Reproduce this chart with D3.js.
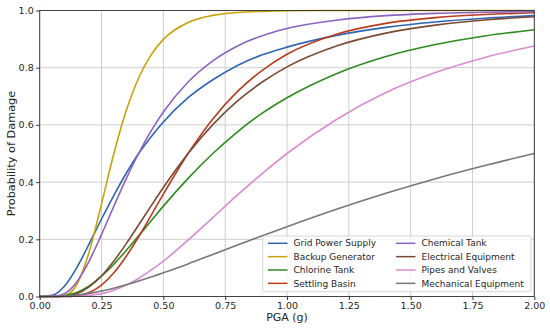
<!DOCTYPE html>
<html lang="en">
<head>
	<meta charset="UTF-8">
	<title>fragility curves</title>
	<script src="https://d3js.org/d3.v7.min.js"></script>
	<style>
		body { margin: 0; background: #fff; }
		text { font-family: "DejaVu Sans", sans-serif; fill: #262626; }
	</style>
</head>
<body>
	<script type="text/javascript">
		// PGA values (g) where the curves were read
		var pga = [0, 0.05, 0.1, 0.15, 0.2, 0.25, 0.3, 0.35, 0.4, 0.45, 0.5, 0.6, 0.7, 0.8, 0.9, 1.0, 1.2, 1.4, 1.6, 1.8, 2.0];

		var gridPower  = [0, 0.004, 0.036, 0.101, 0.184, 0.271, 0.354, 0.431, 0.5, 0.558, 0.61, 0.695, 0.758, 0.808, 0.845, 0.872, 0.913, 0.941, 0.96, 0.973, 0.982];
		var backupGen  = [0, 0, 0.003, 0.042, 0.156, 0.324, 0.5, 0.65, 0.764, 0.844, 0.899, 0.958, 0.983, 0.993, 0.997, 0.999, 1, 1, 1, 1, 1];
		var chlorine   = [0, 0, 0.003, 0.014, 0.037, 0.071, 0.113, 0.161, 0.212, 0.264, 0.316, 0.413, 0.5, 0.576, 0.641, 0.695, 0.779, 0.839, 0.881, 0.911, 0.933];
		var settling   = [0, 0, 0, 0.003, 0.014, 0.04, 0.083, 0.141, 0.209, 0.283, 0.358, 0.5, 0.621, 0.717, 0.791, 0.847, 0.917, 0.955, 0.975, 0.986, 0.992];
		var chemical   = [0, 0, 0.01, 0.051, 0.124, 0.217, 0.316, 0.412, 0.5, 0.578, 0.645, 0.75, 0.824, 0.876, 0.912, 0.937, 0.966, 0.982, 0.99, 0.994, 0.996];
		var electrical = [0, 0, 0.001, 0.01, 0.034, 0.072, 0.124, 0.185, 0.25, 0.316, 0.381, 0.5, 0.601, 0.684, 0.75, 0.803, 0.876, 0.921, 0.949, 0.967, 0.978];
		var pipes      = [0, 0, 0, 0.001, 0.004, 0.01, 0.022, 0.04, 0.063, 0.092, 0.124, 0.197, 0.276, 0.355, 0.43, 0.5, 0.619, 0.713, 0.783, 0.836, 0.876];
		var mechanical = [0, 0, 0.001, 0.005, 0.011, 0.019, 0.029, 0.041, 0.054, 0.068, 0.083, 0.114, 0.147, 0.18, 0.212, 0.244, 0.305, 0.361, 0.412, 0.458, 0.5];

		var names = ["Grid Power Supply", "Backup Generator", "Chlorine Tank", "Settling Basin",
			"Chemical Tank", "Electrical Equipment", "Pipes and Valves", "Mechanical Equipment"];
		var colors = ["#2f64b3", "#c9a20a", "#2e8b1e", "#b83c1e", "#8c62c0", "#7b4a33", "#d98cd2", "#777777"];
		var xTicks = [0, 0.25, 0.5, 0.75, 1.0, 1.25, 1.5, 1.75, 2.0];
		var yTicks = [0, 0.2, 0.4, 0.6, 0.8, 1.0];

		var series = [gridPower, backupGen, chlorine, settling, chemical, electrical, pipes, mechanical];

		var w = 550, h = 331;
		var pLeft = 39.7, pRight = 534.3, pTop = 10.5, pBottom = 296.5;

		var xScale = d3.scaleLinear().domain([0, 2]).range([pLeft, pRight]);
		var yScale = d3.scaleLinear().domain([0, 1]).range([pBottom, pTop]);

		var svg = d3.select("body").append("svg").attr("width", w).attr("height", h);

		// grid
		svg.append("g").selectAll("line").data(xTicks).enter().append("line")
			.attr("x1", function(d){ return xScale(d); }).attr("x2", function(d){ return xScale(d); })
			.attr("y1", pTop).attr("y2", pBottom)
			.attr("stroke", "#cfcfcf").attr("stroke-width", 1);
		svg.append("g").selectAll("line").data(yTicks).enter().append("line")
			.attr("x1", pLeft).attr("x2", pRight)
			.attr("y1", function(d){ return yScale(d); }).attr("y2", function(d){ return yScale(d); })
			.attr("stroke", "#cfcfcf").attr("stroke-width", 1);

		// curves
		var line = d3.line()
			.x(function(d, i){ return xScale(pga[i]); })
			.y(function(d){ return yScale(d); })
			.curve(d3.curveMonotoneX);

		svg.append("g").selectAll("path").data(series).enter().append("path")
			.attr("d", line)
			.attr("fill", "none")
			.attr("stroke", function(d, i){ return colors[i]; })
			.attr("stroke-width", 1.6);

		// axes
		var xAxis = svg.append("g").attr("transform", "translate(0," + pBottom + ")")
			.call(d3.axisBottom(xScale).tickValues(xTicks).tickFormat(d3.format(".2f")).tickSize(3.5).tickPadding(2.5));
		var yAxis = svg.append("g").attr("transform", "translate(" + pLeft + ",0)")
			.call(d3.axisLeft(yScale).tickValues(yTicks).tickFormat(d3.format(".1f")).tickSize(3.5).tickPadding(2.5));
		[xAxis, yAxis].forEach(function(a){
			a.select(".domain").remove();
			a.selectAll("line").attr("stroke", "#333");
			a.selectAll("text").style("font-size", "9.5px").attr("fill", "#262626");
		});

		// frame
		svg.append("rect").attr("x", pLeft).attr("y", pTop)
			.attr("width", pRight - pLeft).attr("height", pBottom - pTop)
			.attr("fill", "none").attr("stroke", "#333").attr("stroke-width", 0.9);

		// axis labels
		svg.append("text").text("PGA (g)")
			.attr("x", (pLeft + pRight) / 2).attr("y", 321)
			.attr("text-anchor", "middle").style("font-size", "11px");
		svg.append("text").text("Probability of Damage")
			.attr("transform", "translate(15," + ((pTop + pBottom) / 2) + ") rotate(-90)")
			.attr("text-anchor", "middle").style("font-size", "11.3px");

		// legend
		var leg = svg.append("g");
		leg.append("rect").attr("x", 262.7).attr("y", 236).attr("width", 268.3).attr("height", 55.7)
			.attr("rx", 2).attr("fill", "#fff").attr("fill-opacity", 0.8)
			.attr("stroke", "#cccccc").attr("stroke-width", 0.8);

		var items = leg.selectAll("g.item").data(names).enter().append("g")
			.attr("class", "item")
			.attr("transform", function(d, i){
				var col = Math.floor(i / 4), row = i % 4;
				return "translate(" + (col === 0 ? 268 : 396) + "," + (243.3 + row * 13.35) + ")";
			});
		items.append("line").attr("x1", 0).attr("x2", 19.5).attr("y1", 0).attr("y2", 0)
			.attr("stroke", function(d, i){ return colors[i]; }).attr("stroke-width", 1.5);
		items.append("text").text(function(d){ return d; })
			.attr("x", 25.5).attr("y", 0).attr("dy", "0.35em")
			.style("font-size", "9px");
	</script>
</body>
</html>
